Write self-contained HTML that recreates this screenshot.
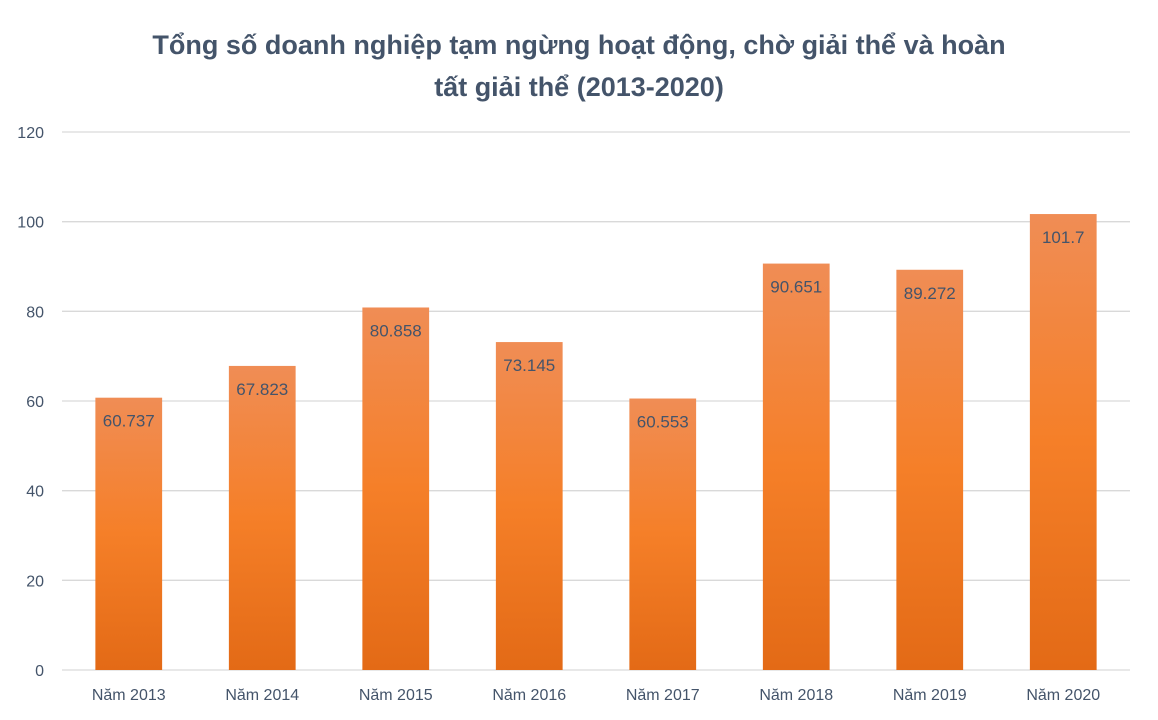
<!DOCTYPE html>
<html><head><meta charset="utf-8"><style>
body{margin:0;background:#fff;}
svg{display:block;font-family:"Liberation Sans","DejaVu Sans",sans-serif;}
</style></head><body>
<svg id="chart" width="1158" height="720">
<defs><linearGradient id="g" x1="0" y1="0" x2="0" y2="1">
<stop offset="0" stop-color="#f08d55"/><stop offset="0.5" stop-color="#f57f28"/><stop offset="1" stop-color="#e36a16"/>
</linearGradient></defs>
<text x="579" y="54" text-anchor="middle" font-size="27" font-weight="bold" fill="#44546a">Tổng số doanh nghiệp tạm ngừng hoạt động, chờ giải thể và hoàn</text>
<text x="579" y="96" text-anchor="middle" font-size="27" font-weight="bold" fill="#44546a">tất giải thể (2013-2020)</text>
<g id="grid"></g><g id="bars"></g><g id="xl"></g>
</svg>
<script>
const categories=["Năm 2013","Năm 2014","Năm 2015","Năm 2016","Năm 2017","Năm 2018","Năm 2019","Năm 2020"];
const values=[60.737,67.823,80.858,73.145,60.553,90.651,89.272,101.7];
const valueLabels=["60.737","67.823","80.858","73.145","60.553","90.651","89.272","101.7"];
const yTicks=[0,20,40,60,80,100,120];
const NS="http://www.w3.org/2000/svg";
const x0=62,x1=1130,y0=670,y1=132,ymax=120;
const band=(x1-x0)/categories.length;
const yS=v=>y0-(v/ymax)*(y0-y1);
const xS=i=>x0+band*(i+0.5);
function mk(t,a,p){const e=document.createElementNS(NS,t);for(const k in a)e.setAttribute(k,a[k]);p.appendChild(e);return e;}
const grid=document.getElementById('grid'),bars=document.getElementById('bars'),xl=document.getElementById('xl');
yTicks.forEach(t=>{
 const l=mk('line',{x1:x0,x2:x1,y1:yS(t),y2:yS(t),stroke:'#d9d9d9','stroke-width':1.3},grid);
 
 
 const tx=mk('text',{x:44,y:yS(t)+6,'text-anchor':'end','font-size':16,fill:'#44546a'},grid);
 tx.textContent=t;
 
 
});
const bw=band*0.5;
values.forEach((v,i)=>{
 const r=mk('rect',{x:xS(i)-bw/2,y:yS(v),width:bw,height:y0-yS(v),fill:'url(#g)'},bars);
 
 
 const t=mk('text',{x:xS(i),y:yS(v)+29,'text-anchor':'middle','font-size':17,fill:'#44546a'},bars);
 t.textContent=valueLabels[i];
 
 
 const c=mk('text',{x:xS(i),y:700,'text-anchor':'middle','font-size':16,fill:'#44546a'},xl);
 c.textContent=categories[i];
 
 
});
</script>
</body></html>
